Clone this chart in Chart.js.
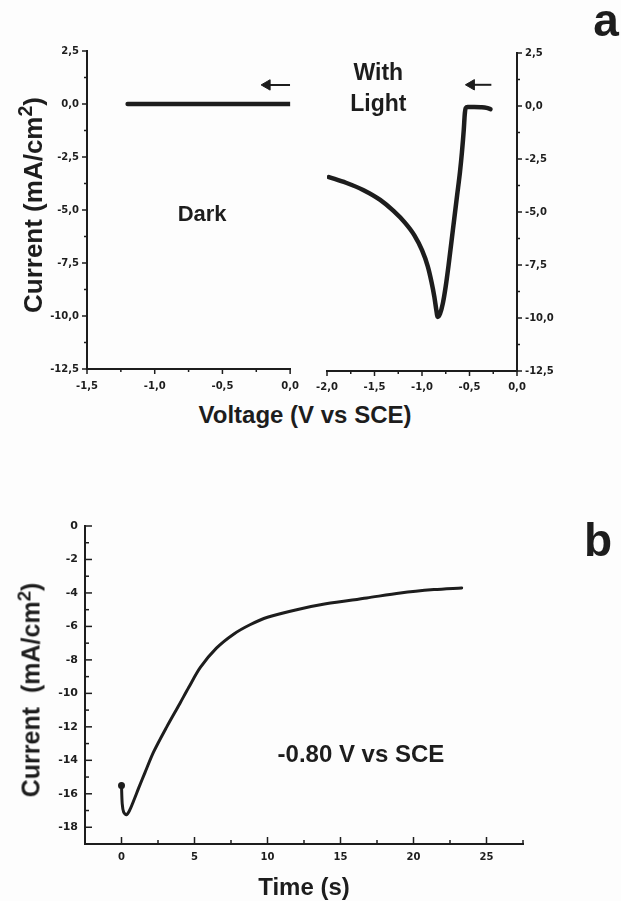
<!DOCTYPE html>
<html>
<head>
<meta charset="utf-8">
<script src="https://cdn.jsdelivr.net/npm/chart.js@4.4.1/dist/chart.umd.min.js"></script>
<style>
  html, body { margin: 0; padding: 0; background: #fdfdfd; }
  #page { position: relative; width: 621px; height: 901px; overflow: hidden;
          font-family: "Liberation Sans", Arial, sans-serif; font-weight: bold; color: #1d1d1d; }
  #page canvas { position: absolute; }
  .lbl { position: absolute; white-space: nowrap; line-height: 1; }
  .mid { transform: translateX(-50%); }
  .rot { transform: translate(-50%, -50%) rotate(-90deg); }
  .sup { font-size: 0.75em; position: relative; top: -0.5em; }
</style>
</head>
<body>
<div id="page">
  <canvas id="leftA" width="310" height="400" style="left:0;top:0"></canvas>
  <canvas id="rightA" width="321" height="400" style="left:300px;top:0"></canvas>
  <canvas id="panelB" width="621" height="421" style="left:0;top:480px"></canvas>

  <div class="lbl mid" style="font-size:46px;left:606px;top:-3px">a</div>
  <div class="lbl mid" style="font-size:46px;left:598px;top:517px">b</div>
  <div class="lbl mid" style="font-size:24px;left:305px;top:403px">Voltage (V vs SCE)</div>
  <div class="lbl mid" style="font-size:24px;left:304px;top:875px">Time (s)</div>
  <div class="lbl rot" style="font-size:26px;left:33px;top:205px">Current (mA/cm<span class="sup">2</span>)</div>
  <div class="lbl rot" style="font-size:25px;left:31px;top:690px">Current&nbsp; (mA/cm<span class="sup">2</span>)</div>
</div>

<script>
// --- panel a : voltammetry (dark / with light) ---
const darkVoltage = [-1.2, -0.9, -0.6, -0.3, 0.0];
const darkCurrent = [0, 0, 0, 0, 0];

const lightVoltage = [-1.98, -1.8, -1.62, -1.44, -1.3, -1.18, -1.08, -1.0, -0.94, -0.9, -0.87, -0.85,
                      -0.835, -0.81, -0.78, -0.75, -0.72, -0.69, -0.66, -0.63, -0.6, -0.58, -0.56,
                      -0.55, -0.54, -0.52, -0.45, -0.38, -0.32, -0.28];
const lightCurrent = [-3.35, -3.62, -3.96, -4.43, -4.95, -5.5, -6.1, -6.8, -7.55, -8.3, -9.0, -9.6,
                      -9.95, -9.8, -9.3, -8.5, -7.5, -6.4, -5.3, -4.2, -3.1, -2.2, -1.1,
                      -0.4, -0.1, -0.05, -0.05, -0.06, -0.09, -0.15];

// scan direction arrows
const arrowDarkV = [-0.17, 0.0];
const arrowDarkI = [0.9, 0.9];
const arrowLightV = [-0.48, -0.27];
const arrowLightI = [1.0, 1.0];

const currentTicksA = [2.5, 0, -2.5, -5, -7.5, -10, -12.5];
const voltTicksDark = [-1.5, -1.0, -0.5, 0.0];
const voltTicksLight = [-2.0, -1.5, -1.0, -0.5, 0.0];

// --- panel b : current transient at -0.80 V ---
const timeS = [0, 0.05, 0.15, 0.34, 0.55, 0.84, 1.2, 1.6, 2.2, 3.1, 4.0, 4.6, 5.4, 6.5,
               7.7, 8.8, 10, 12, 14, 16.8, 19.1, 21.4, 23.3];
const transientCurrent = [-15.5, -16.6, -17.1, -17.25, -17.0, -16.4, -15.6, -14.75, -13.5, -12.0, -10.6, -9.65, -8.45, -7.3,
                          -6.45, -5.9, -5.45, -5.0, -4.65, -4.3, -4.0, -3.8, -3.7];

const currentTicksB = [0, -2, -4, -6, -8, -10, -12, -14, -16, -18];
const timeTicks = [0, 5, 10, 15, 20, 25];

const ink = '#1d1d1d';
const labelFamily = '"Liberation Sans", Arial, sans-serif';

function pts(xs, ys) {
    return xs.map((x, i) => ({ x: x, y: ys[i] }));
}

const fmtComma = v => v.toFixed(1).replace('.', ',');

// tick marks (major + minor) drawn along the axes
const tickMarks = {
    id: 'tickMarks',
    afterDraw(chart, args, opts) {
        const ctx = chart.ctx;
        ctx.save();
        ctx.strokeStyle = ink;
        ctx.lineWidth = opts.width || 1.5;
        for (const id in (opts.axes || {})) {
            const s = chart.scales[id];
            const o = opts.axes[id];
            const horiz = s.isHorizontal();
            const base = horiz ? s.top : (s.position === 'left' ? s.right : s.left);
            const out = horiz ? 1 : (s.position === 'left' ? -1 : 1);
            const sign = o.inward ? -out : out;
            const majors = s.ticks.map(t => t.value);
            const n = Math.round((s.max - s.min) / o.minor);
            for (let i = 0; i <= n; i++) {
                const v = s.min + i * o.minor;
                const isMajor = majors.some(m => Math.abs(m - v) < 1e-6);
                const len = isMajor ? o.len : o.minorLen;
                const p = s.getPixelForValue(v);
                ctx.beginPath();
                if (horiz) { ctx.moveTo(p, base); ctx.lineTo(p, base + sign * len); }
                else { ctx.moveTo(base, p); ctx.lineTo(base + sign * len, p); }
                ctx.stroke();
            }
        }
        ctx.restore();
    }
};

// text annotations placed in data coordinates
const notes = {
    id: 'notes',
    afterDatasetsDraw(chart, args, opts) {
        const ctx = chart.ctx;
        ctx.save();
        ctx.fillStyle = ink;
        ctx.textAlign = 'center';
        ctx.textBaseline = 'alphabetic';
        (opts.items || []).forEach(n => {
            ctx.font = 'bold ' + n.size + 'px ' + labelFamily;
            ctx.fillText(n.text, chart.scales.x.getPixelForValue(n.x), chart.scales.y.getPixelForValue(n.y));
        });
        ctx.restore();
    }
};

function axis(opts) {
    return {
        type: 'linear',
        position: opts.position,
        min: opts.min,
        max: opts.max,
        afterBuildTicks: s => { s.ticks = opts.ticks.map(v => ({ value: v })); },
        afterFit: s => {
            if (opts.width) s.width = opts.width;
            if (opts.height) s.height = opts.height;
        },
        grid: { display: false, drawTicks: false },
        border: { display: true, color: ink, width: 2 },
        ticks: {
            padding: opts.padding,
            color: ink,
            autoSkip: false,
            maxRotation: 0,
            font: { family: '"DejaVu Sans", sans-serif', weight: 'bold', size: opts.fontSize || 10 },
            callback: opts.format
        }
    };
}

function lineSet(data, width) {
    return {
        data: data,
        showLine: true,
        borderColor: ink,
        borderWidth: width,
        borderCapStyle: 'round',
        borderJoinStyle: 'round',
        pointRadius: 0,
        cubicInterpolationMode: 'monotone'
    };
}

function arrowSet(data) {
    return {
        data: data,
        showLine: true,
        borderColor: ink,
        borderWidth: 2,
        pointStyle: 'triangle',
        pointRotation: -90,
        pointRadius: [6, 0],
        pointBackgroundColor: ink,
        pointBorderColor: ink,
        pointBorderWidth: 1
    };
}

function baseOptions(padding, scales, axesTicks, items) {
    return {
        responsive: false,
        animation: false,
        devicePixelRatio: 1,
        layout: { padding: padding },
        events: [],
        scales: scales,
        plugins: {
            legend: { display: false },
            tooltip: { enabled: false },
            tickMarks: { axes: axesTicks, width: 1.5 },
            notes: { items: items }
        }
    };
}

// Panel a, left: dark
new Chart(document.getElementById('leftA'), {
    type: 'scatter',
    data: { datasets: [lineSet(pts(darkVoltage, darkCurrent), 4.5), arrowSet(pts(arrowDarkV, arrowDarkI))] },
    options: baseOptions(
        { top: 51, right: 19, bottom: 0, left: 0 },
        {
            x: axis({ position: 'bottom', min: -1.5, max: 0, ticks: voltTicksDark, height: 31, padding: 11, format: fmtComma }),
            y: axis({ position: 'left', min: -12.5, max: 2.5, ticks: currentTicksA, width: 87, padding: 8, format: fmtComma })
        },
        {
            x: { minor: 0.25, len: 5, minorLen: 3 },
            y: { minor: 1.25, len: 5, minorLen: 3 }
        },
        [{ text: 'Dark', x: -0.65, y: -5.5, size: 22 }]
    ),
    plugins: [tickMarks, notes]
});

// Panel a, right: with light
new Chart(document.getElementById('rightA'), {
    type: 'scatter',
    data: { datasets: [lineSet(pts(lightVoltage, lightCurrent), 4.5), arrowSet(pts(arrowLightV, arrowLightI))] },
    options: baseOptions(
        { top: 53, right: 0, bottom: 0, left: 27 },
        {
            x: axis({ position: 'bottom', min: -2, max: 0, ticks: voltTicksLight, height: 29, padding: 10, format: fmtComma }),
            y: axis({ position: 'right', min: -12.5, max: 2.5, ticks: currentTicksA, width: 104, padding: 8, format: fmtComma })
        },
        {
            x: { minor: 0.25, len: 5, minorLen: 3 },
            y: { minor: 1.25, len: 5, minorLen: 3 }
        },
        [
            { text: 'With', x: -1.46, y: 1.23, size: 23 },
            { text: 'Light', x: -1.46, y: -0.24, size: 23 }
        ]
    ),
    plugins: [tickMarks, notes]
});

// Panel b: transient
const transientSet = lineSet(pts(timeS, transientCurrent), 3);
transientSet.cubicInterpolationMode = 'default';
transientSet.tension = 0.3;
transientSet.pointRadius = ctx => (ctx.dataIndex === 0 ? 2 : 0);
transientSet.pointBackgroundColor = ink;
transientSet.pointBorderColor = ink;

new Chart(document.getElementById('panelB'), {
    type: 'scatter',
    data: { datasets: [transientSet] },
    options: baseOptions(
        { top: 46, right: 98, bottom: 0, left: 0 },
        {
            x: axis({ position: 'bottom', min: -2.5, max: 27.5, ticks: timeTicks, height: 57, padding: 7, fontSize: 10, format: v => String(v) }),
            y: axis({ position: 'left', min: -19, max: 0, ticks: currentTicksB, width: 85, padding: 7, fontSize: 11, format: v => String(v) })
        },
        {
            x: { minor: 2.5, len: 7, minorLen: 4, inward: true },
            y: { minor: 1, len: 7, minorLen: 4, inward: true }
        },
        [{ text: '-0.80 V vs SCE', x: 16.4, y: -14.1, size: 24 }]
    ),
    plugins: [tickMarks, notes]
});
</script>
</body>
</html>
